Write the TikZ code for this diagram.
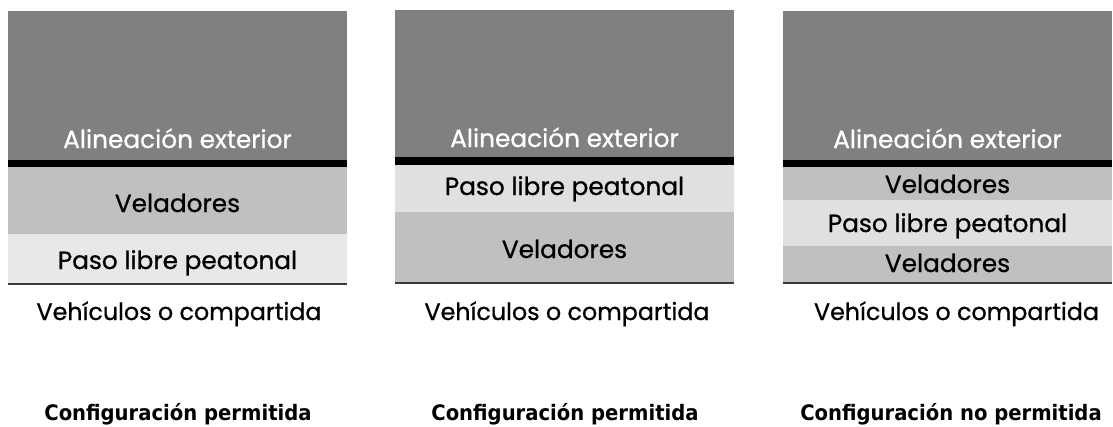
\documentclass[tikz,border=0pt]{standalone}
\usepackage{fontspec}
\newfontfamily\futfont[FakeBold=0.8]{Poppins}
\newfontfamily\tahfont[FakeStretch=0.92]{DejaVu Sans}
\definecolor{topgray}{HTML}{808080}
\definecolor{velgray}{HTML}{C0C0C0}
\definecolor{pasoA}{HTML}{E9E7E9}
\definecolor{pasoB}{HTML}{E0E0E0}
\definecolor{edgegray}{HTML}{3A3A3A}
\tikzset{
  lbl/.style={anchor=base, inner sep=0pt, font=\futfont\fontsize{24.8}{25}\selectfont},
  wlbl/.style={lbl, text=white},
  vlbl/.style={lbl, font=\futfont\fontsize{23.8}{24}\selectfont},
  captxt/.style={anchor=base, inner sep=0pt, font=\tahfont\bfseries\fontsize{21.3}{22}\selectfont},
}
\begin{document}
\begin{tikzpicture}[x=1pt,y=-1pt]
\useasboundingbox (0,0) rectangle (1113,426);
% Panel 1
\fill[topgray] (8,11) rectangle (347,160);
\fill[black] (8,160) rectangle (347,167);
\fill[velgray] (8,167) rectangle (347,234);
\fill[pasoA] (8,234) rectangle (347,283);
\fill[edgegray] (8,283) rectangle (347,285);
\node[wlbl] (a1) at (177.5,148) {Alineación exterior};
\node[lbl] (v1) at (177.5,212) {Veladores};
\node[lbl] (p1) at (177.5,269) {Paso libre peatonal};
\node[vlbl] (c1) at (179,320) {Vehículos o compartida};
\node[captxt] (k1) at (178,420) {Configuración permitida};
% Panel 2
\fill[topgray] (395,10) rectangle (734,157);
\fill[black] (395,157) rectangle (734,165);
\fill[pasoB] (395,165) rectangle (734,212);
\fill[velgray] (395,212) rectangle (734,282);
\fill[edgegray] (395,282) rectangle (734,284);
\node[wlbl] (a2) at (564.5,147) {Alineación exterior};
\node[lbl] (p2) at (564.5,195) {Paso libre peatonal};
\node[lbl] (v2) at (564.5,258) {Veladores};
\node[vlbl] (c2) at (567,320) {Vehículos o compartida};
\node[captxt] (k2) at (565,420) {Configuración permitida};
% Panel 3
\fill[topgray] (783,11) rectangle (1112,160);
\fill[black] (783,160) rectangle (1112,167);
\fill[velgray] (783,167) rectangle (1112,200);
\fill[pasoB] (783,200) rectangle (1112,246);
\fill[velgray] (783,246) rectangle (1112,282);
\fill[edgegray] (783,282) rectangle (1112,284);
\node[wlbl] (a3) at (947.5,148) {Alineación exterior};
\node[lbl] (v3) at (947.5,193) {Veladores};
\node[lbl] (p3) at (947.5,232) {Paso libre peatonal};
\node[lbl] (v4) at (947.5,272) {Veladores};
\node[vlbl] (c3) at (956.5,320) {Vehículos o compartida};
\node[captxt] (k3) at (951,420) {Configuración no permitida};
\end{tikzpicture}
\end{document}
